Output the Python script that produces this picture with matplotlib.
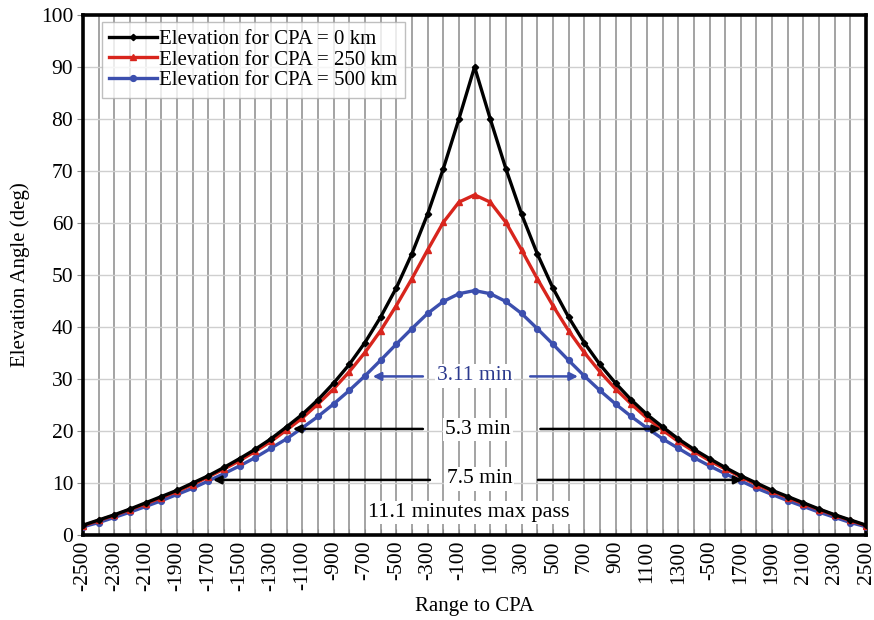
import matplotlib
matplotlib.use("Agg")
import matplotlib.pyplot as plt

# ---------------- data ----------------
ranges = list(range(-2500, 2501, 100))

elev_cpa0 = [1.9, 2.9, 3.9, 5.0, 6.2, 7.4, 8.6, 10.0, 11.4, 13.0, 14.7, 16.5, 18.5,
             20.8, 23.2, 26.0, 29.2, 32.8, 37.0, 41.9, 47.5, 54.1, 61.7, 70.4, 80.0,
             90.0,
             80.0, 70.4, 61.7, 54.1, 47.5, 41.9, 37.0, 32.8, 29.2, 26.0, 23.2, 20.8,
             18.5, 16.5, 14.7, 13.0, 11.4, 10.0, 8.6, 7.4, 6.2, 5.0, 3.9, 2.9, 1.9]

elev_cpa250 = [1.8, 2.8, 3.8, 4.9, 6.0, 7.2, 8.4, 9.7, 11.2, 12.7, 14.3, 16.1, 18.0,
               20.2, 22.5, 25.2, 28.1, 31.4, 35.1, 39.3, 44.1, 49.3, 54.8, 60.1, 64.0,
               65.4,
               64.0, 60.1, 54.8, 49.3, 44.1, 39.3, 35.1, 31.4, 28.1, 25.2, 22.5, 20.2,
               18.0, 16.1, 14.3, 12.7, 11.2, 9.7, 8.4, 7.2, 6.0, 4.9, 3.8, 2.8, 1.8]

elev_cpa500 = [1.6, 2.4, 3.4, 4.4, 5.5, 6.6, 7.8, 9.0, 10.4, 11.8, 13.3, 14.9, 16.7,
               18.5, 20.6, 22.8, 25.2, 27.8, 30.6, 33.6, 36.7, 39.7, 42.6, 44.9, 46.4,
               47.0,
               46.4, 44.9, 42.6, 39.7, 36.7, 33.6, 30.6, 27.8, 25.2, 22.8, 20.6, 18.5,
               16.7, 14.9, 13.3, 11.8, 10.4, 9.0, 7.8, 6.6, 5.5, 4.4, 3.4, 2.4, 1.6]

series_labels = ["Elevation for CPA = 0 km", "Elevation for CPA = 250 km",
                 "Elevation for CPA = 500 km"]

xtick_pos = list(range(-2500, 2501, 200))
xtick_labels = ["-2500", "-2300", "-2100", "-1900", "-1700", "-1500", "-1300",
                "-1100", "-900", "-700", "-500", "-300", "-100", "100", "300",
                "500", "700", "900", "1100", "1300", "-500", "1700", "1900",
                "2100", "2300", "2500"]
ytick_pos = list(range(0, 101, 10))

# ---------------- style ----------------
plt.rcParams['font.family'] = ['Liberation Serif', 'DejaVu Serif']
BLACK = "#000000"
RED = "#d8251d"
BLUE = "#3c4fae"
TXTBLUE = "#2c3a8e"
FS_TICK = 15.5
FS_LAB = 15
FS_ANN = 15.5

fig = plt.figure(figsize=(8.74, 6.2), dpi=100)
ax = fig.add_axes([0.095, 0.137, 0.896, 0.839])

ax.set_xlim(-2500, 2500)
ax.set_ylim(0, 100)

# grid
ax.set_xticks(xtick_pos)
ax.set_xticks(ranges, minor=True)
ax.set_xticklabels(xtick_labels, rotation=90, fontsize=FS_TICK)
ax.set_yticks(ytick_pos)
ax.set_yticklabels([str(v) for v in ytick_pos], fontsize=FS_TICK)
ax.grid(True, which='both', axis='x', color='#8a8a8a', lw=1.1, zorder=0)
ax.grid(True, which='major', axis='y', color='#cfcfcf', lw=1.0, zorder=0)
ax.set_axisbelow(True)
ax.tick_params(axis='x', which='both', direction='in', length=4, width=0.8,
               color='#888888', pad=4)
ax.tick_params(axis='y', which='major', direction='out', length=4, width=0.8,
               color='#888888', pad=3)
for s in ax.spines.values():
    s.set_linewidth(2.6)
    s.set_color('black')

# series
ax.plot(ranges, elev_cpa0, color=BLACK, lw=2.4, marker='D', ms=3.2,
        label=series_labels[0], zorder=5)
ax.plot(ranges, elev_cpa250, color=RED, lw=2.4, marker='^', ms=4.5,
        label=series_labels[1], zorder=4)
ax.plot(ranges, elev_cpa500, color=BLUE, lw=2.4, marker='o', ms=4.2,
        label=series_labels[2], zorder=3)

ax.set_xlabel("Range to CPA", fontsize=FS_LAB, labelpad=4)
ax.set_ylabel("Elevation Angle (deg)", fontsize=FS_LAB, labelpad=8)

leg = ax.legend(loc='upper left', bbox_to_anchor=(0.024, 0.986), fontsize=15,
                frameon=True, fancybox=False, edgecolor='#b0b0b0',
                borderpad=0.35, handlelength=2.3, handletextpad=0.1,
                labelspacing=0.05, borderaxespad=0.0)
leg.get_frame().set_linewidth(1.0)

# annotations
box = dict(facecolor='white', edgecolor='none', pad=1.5)
arrow_k = dict(arrowstyle='-|>', color='black', lw=1.8, mutation_scale=12,
               shrinkA=0, shrinkB=0)
arrow_b = dict(arrowstyle='-|>', color=BLUE, lw=1.8, mutation_scale=12,
               shrinkA=0, shrinkB=0)

ax.text(0, 30.6, "3.11 min", color=TXTBLUE, fontsize=FS_ANN, ha='center',
        va='center', bbox=box, zorder=6)
ax.annotate("", xy=(-650, 30.5), xytext=(-330, 30.5), arrowprops=arrow_b, zorder=6)
ax.annotate("", xy=(660, 30.5), xytext=(355, 30.5), arrowprops=arrow_b, zorder=6)

ax.text(20, 20.3, "5.3 min", color='black', fontsize=FS_ANN, ha='center',
        va='center', bbox=box, zorder=6)
ax.annotate("", xy=(-1160, 20.4), xytext=(-330, 20.4), arrowprops=arrow_k, zorder=6)
ax.annotate("", xy=(1190, 20.4), xytext=(420, 20.4), arrowprops=arrow_k, zorder=6)

ax.text(30, 10.8, "7.5 min", color='black', fontsize=FS_ANN, ha='center',
        va='center', bbox=box, zorder=6)
ax.annotate("", xy=(-1670, 10.6), xytext=(-285, 10.6), arrowprops=arrow_k, zorder=6)
ax.annotate("", xy=(1710, 10.6), xytext=(405, 10.6), arrowprops=arrow_k, zorder=6)

ax.text(-40, 4.3, "11.1 minutes max pass", color='black', fontsize=16,
        ha='center', va='center', bbox=box, zorder=6)

fig.savefig("out.png", dpi=100)
